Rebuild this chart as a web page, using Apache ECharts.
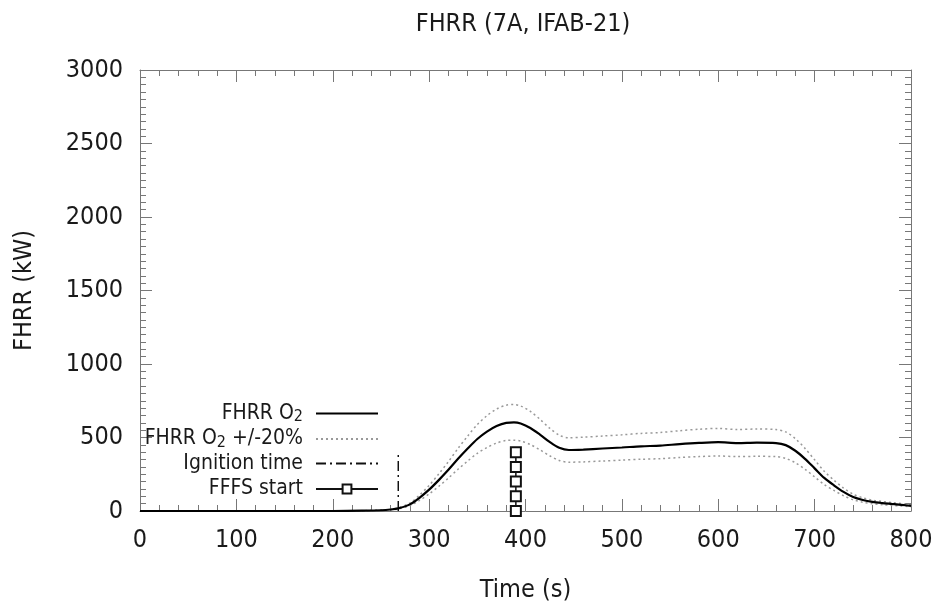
<!DOCTYPE html>
<html>
<head>
<meta charset="utf-8">
<script src="https://cdn.jsdelivr.net/npm/echarts@6/dist/echarts.min.js"></script>
<style>
  html, body { margin: 0; padding: 0; background: #fff; }
  #main { width: 947px; height: 609px; }
</style>
</head>
<body>
<div id="main"></div>
<script>
// time axis (s) and measured FHRR values (kW)
var times = [0, 100, 200, 230, 250, 260, 268, 280, 290, 300, 310, 320, 330, 340, 350, 360, 370, 380, 388, 395,
  405, 415, 425, 435, 445, 460, 480, 500, 520, 540, 560, 580, 600, 620, 640, 660, 670, 680, 690, 700,
  710, 720, 730, 740, 750, 760, 770, 780, 790, 800];
var fhrr = [0, 0, 0, 2, 5, 10, 18, 45, 90, 145, 210, 280, 355, 425, 490, 540, 578, 600, 603, 595,
  565, 520, 470, 430, 415, 418, 425, 432, 440, 445, 455, 463, 468, 462, 465, 462, 448, 410, 355, 290,
  225, 175, 130, 95, 75, 62, 54, 48, 42, 35];
var fhrrHigh = [0, 0, 0, 2, 6, 12, 22, 54, 108, 174, 252, 336, 426, 510, 588, 648, 694, 720, 724, 714,
  678, 624, 564, 516, 498, 502, 510, 518, 528, 534, 546, 556, 562, 554, 558, 554, 538, 492, 426, 348,
  270, 210, 156, 114, 90, 74, 65, 58, 50, 42];
var fhrrLow = [0, 0, 0, 2, 4, 8, 14, 36, 72, 116, 168, 224, 284, 340, 392, 432, 462, 480, 482, 476,
  452, 416, 376, 344, 332, 334, 340, 346, 352, 356, 364, 370, 374, 370, 372, 370, 358, 328, 284, 232,
  180, 140, 104, 76, 60, 50, 43, 38, 34, 28];
var ignitionTime = 268;
var ignitionLevels = [0, 400];
var fffsTime = 390;
var fffsLevels = [0, 100, 200, 300, 400];

var names = ['FHRR O2', 'FHRR O2 +/-20%', 'Ignition time', 'FFFS start'];
// legend text with the "2" of O2 set as subscript
var legendLabels = {
  'FHRR O2': '{t|FHRR O}{s|2}',
  'FHRR O2 +/-20%': '{t|FHRR O}{s|2}{t| +/-20%}',
  'Ignition time': '{t|Ignition time}',
  'FFFS start': '{t|FFFS start}'
};

function pairs(xs, ys) {
  return xs.map(function (x, i) { return [x, ys[i]]; });
}

var font = 'DejaVu Sans Condensed, DejaVu Sans, sans-serif';
var axisColor = '#777';
var textColor = '#1a1a1a';

var chart = echarts.init(document.getElementById('main'));

var legends = names.map(function (n, i) {
  return {
    data: [{ name: n, itemStyle: i < 3 ? { opacity: 0 } : undefined }],
    orient: 'vertical',
    align: 'right',
    right: 568,
    top: 402 + i * 25.5,
    padding: 0,
    itemWidth: 62,
    itemHeight: 11,
    selectedMode: false,
    formatter: function (name) { return legendLabels[name]; },
    textStyle: {
      color: textColor,
      padding: [0, 8, 0, 0],
      rich: {
        t: { fontFamily: font, fontSize: 21, color: textColor, lineHeight: 22 },
        s: { fontFamily: font, fontSize: 16, color: textColor, lineHeight: 22, padding: [7, 0, 0, 0] }
      }
    }
  };
});

function plain(v) { return String(v); }

function axisBase(showLabels) {
  return {
    axisLine: { show: true, onZero: false, lineStyle: { color: axisColor, width: 1 } },
    axisTick: { show: true, inside: true, length: 12, lineStyle: { color: axisColor } },
    minorTick: { show: true, length: 6, lineStyle: { color: axisColor } },
    splitLine: { show: false },
    axisLabel: { show: showLabels, fontFamily: font, fontSize: 25, color: textColor, formatter: plain }
  };
}

var xBottom = Object.assign(axisBase(true), {
  type: 'value', min: 0, max: 800, interval: 100, position: 'bottom',
  name: 'Time (s)', nameLocation: 'middle', nameGap: 67,
  nameTextStyle: { fontFamily: font, fontSize: 25, color: textColor }
});
xBottom.minorTick.splitNumber = 5;
xBottom.axisLabel.margin = 17;
var xTop = Object.assign(axisBase(false), { type: 'value', min: 0, max: 800, interval: 100, position: 'top' });
xTop.minorTick.splitNumber = 5;

var yLeft = Object.assign(axisBase(true), {
  type: 'value', min: 0, max: 3000, interval: 500, position: 'left',
  name: 'FHRR (kW)', nameLocation: 'middle', nameGap: 103,
  nameTextStyle: { fontFamily: font, fontSize: 25, color: textColor }
});
yLeft.minorTick.splitNumber = 10;
yLeft.axisLabel.margin = 17;
var yRight = Object.assign(axisBase(false), { type: 'value', min: 0, max: 3000, interval: 500, position: 'right' });
yRight.minorTick.splitNumber = 10;

chart.setOption({
  animation: false,
  backgroundColor: '#fff',
  title: {
    text: 'FHRR (7A, IFAB-21)',
    left: 518,
    textAlign: 'center',
    top: 7,
    textStyle: { fontFamily: font, fontSize: 25, fontWeight: 'normal', color: textColor }
  },
  legend: legends,
  grid: { left: 140, right: 36, top: 70, bottom: 98 },
  xAxis: [xBottom, xTop],
  yAxis: [yLeft, yRight],
  series: [
    {
      name: names[1], type: 'line', data: pairs(times, fhrrHigh), symbol: 'none', smooth: 0.3,
      color: '#999', lineStyle: { color: '#999', width: 1.5, type: [2, 3] }, z: 2
    },
    {
      name: names[1], type: 'line', data: pairs(times, fhrrLow), symbol: 'none', smooth: 0.3,
      color: '#999', lineStyle: { color: '#999', width: 1.5, type: [2, 3] }, z: 2
    },
    {
      name: names[2], type: 'line', symbol: 'none', color: '#111',
      data: ignitionLevels.map(function (v) { return [ignitionTime, v]; }),
      lineStyle: { color: '#111', width: 1.5, type: [10, 4, 2, 4] }, z: 3
    },
    {
      name: names[3], type: 'line', symbol: 'emptyRect', symbolSize: 10, showAllSymbol: true, color: '#111',
      data: fffsLevels.map(function (v) { return [fffsTime, v]; }),
      itemStyle: { color: '#111', borderColor: '#111', borderWidth: 1.5 },
      lineStyle: { color: '#111', width: 1.5 }, z: 4
    },
    {
      name: names[0], type: 'line', data: pairs(times, fhrr), symbol: 'none', smooth: 0.3,
      color: '#000', lineStyle: { color: '#000', width: 2.2 }, z: 5
    }
  ]
});
</script>
</body>
</html>
